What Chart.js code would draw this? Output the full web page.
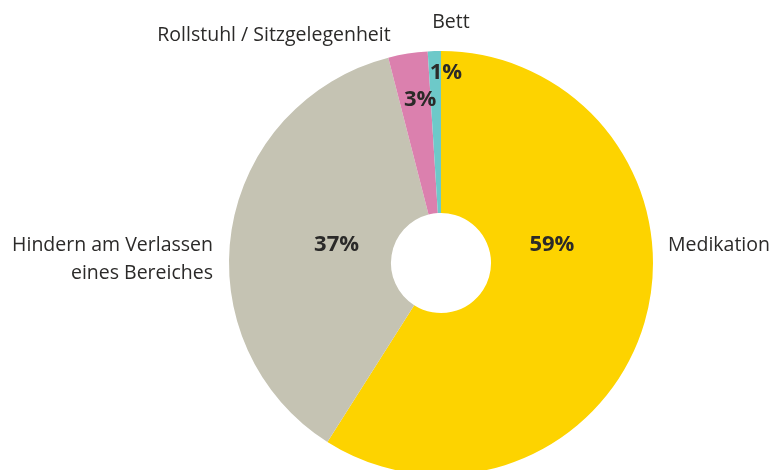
<!DOCTYPE html>
<html>
<head>
<meta charset="utf-8">
<script src="https://cdn.jsdelivr.net/npm/chart.js@4"></script>
<style>
  html, body { margin: 0; padding: 0; background: #fff; }
  #wrap { width: 773px; height: 470px; }
</style>
</head>
<body>
<div id="wrap"><canvas id="PieChart"></canvas></div>
<script>
const categories = ["Medikation", "Hindern am Verlassen eines Bereiches", "Rollstuhl / Sitzgelegenheit", "Bett"];
const percent = [59, 37, 3, 1];
const colors = ["#fdd300", "#c5c3b3", "#db80ae", "#6dc9c9"];

// caption lines drawn outside the ring
const captions = [
  ["Medikation"],
  ["Hindern am Verlassen", "eines Bereiches"],
  ["Rollstuhl / Sitzgelegenheit"],
  ["Bett"],
];

// where to place the value text inside each slice (angle from 12 o'clock, fraction of radius)
const valuePos = [
  { angle: 80.8, r: 0.53 },
  { angle: 279.8, r: 0.5 },
  { angle: 352.7, r: 0.775 },
  { angle: 1.5, r: 0.9 },
];
// caption anchors relative to the ring centre
const captionPos = [
  { dx: 227, dy: -18, align: "left" },
  { dx: -228, dy: -18, align: "right" },
  { dx: -167, dy: -228, align: "center" },
  { dx: 10, dy: -241, align: "center" },
];

const FONT = "'Open Sans', sans-serif";
const INK = "#2b2a29";

const labelPlugin = {
  id: "sliceLabels",
  afterDatasetsDraw(chart) {
    const ctx = chart.ctx;
    const arcs = chart.getDatasetMeta(0).data;
    const cx = arcs[0].x, cy = arcs[0].y, R = arcs[0].outerRadius;
    ctx.save();
    ctx.fillStyle = INK;
    ctx.textBaseline = "middle";

    ctx.font = "bold 22px " + FONT;
    ctx.textAlign = "center";
    percent.forEach((v, i) => {
      const a = valuePos[i].angle * Math.PI / 180;
      const x = cx + Math.sin(a) * R * valuePos[i].r;
      const y = cy - Math.cos(a) * R * valuePos[i].r;
      ctx.fillText(v + "%", x, y);
    });

    ctx.font = "19.5px " + FONT;
    captions.forEach((lines, i) => {
      const p = captionPos[i];
      ctx.textAlign = p.align;
      lines.forEach((t, j) => ctx.fillText(t, cx + p.dx, cy + p.dy + j * 28));
    });
    ctx.restore();
  },
};

const ctx1 = document.getElementById("PieChart");
const myChart1 = new Chart(ctx1, {
  type: "doughnut",
  data: {
    labels: categories,
    datasets: [
      {
        data: percent,
        backgroundColor: colors,
        borderWidth: 0,
      },
    ],
  },
  options: {
    responsive: true,
    maintainAspectRatio: false,
    animation: false,
    radius: 212,
    cutout: "23.6%",
    layout: {
      padding: { left: 229, right: 120, top: 56, bottom: 0 },
    },
    plugins: {
      legend: { display: false },
      tooltip: { enabled: false },
    },
  },
  plugins: [labelPlugin],
});
</script>
</body>
</html>
